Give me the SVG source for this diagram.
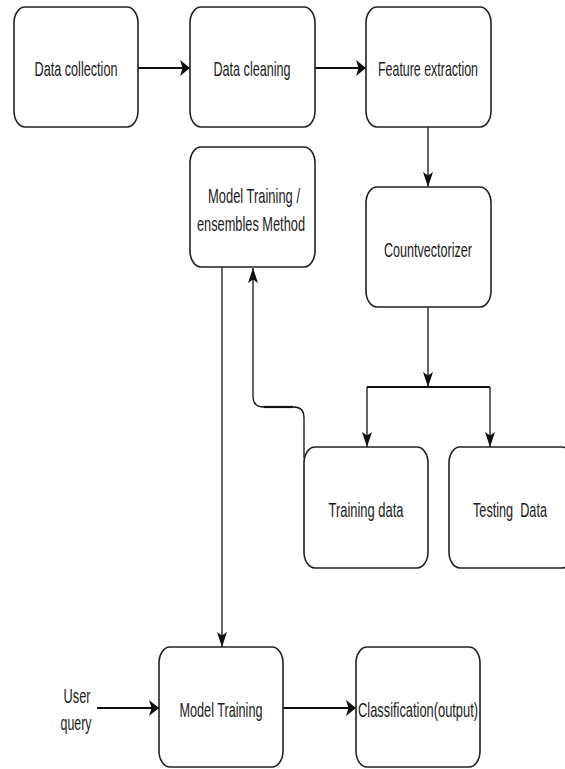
<svg xmlns="http://www.w3.org/2000/svg" width="565" height="769" viewBox="0 0 565 769">
<style>
.box{fill:#fff;stroke:#222;stroke-width:1.6}
.t{font-family:"Liberation Sans",Arial,sans-serif;font-size:21px;fill:#1a1a1a;text-anchor:middle}
.h{fill:none;stroke:#111;stroke-width:2.2}
.v{fill:none;stroke:#111;stroke-width:1.3}
</style>
<defs>
<marker id="ah" markerUnits="userSpaceOnUse" markerWidth="11" markerHeight="17" refX="10" refY="8" orient="auto">
<path d="M0,0 L10,8 L0,16 L2.5,8 Z" fill="#111"/>
</marker>
<marker id="av" markerUnits="userSpaceOnUse" markerWidth="16" markerHeight="11" refX="15" refY="5" orient="auto">
<path d="M0,0 L15,5 L0,10 L3.5,5 Z" fill="#111"/>
</marker>
</defs>
<rect width="565" height="769" fill="#fff"/>
<g id="connectors">
<path class="h" d="M138,68 L190,68" marker-end="url(#ah)"/>
<path class="h" d="M315,68 L366,68" marker-end="url(#ah)"/>
<path class="v" d="M428,127 L428,187" marker-end="url(#av)"/>
<path class="v" d="M428,307 L428,387" marker-end="url(#av)"/>
<path class="h" d="M367,387 L490,387"/>
<path class="v" d="M367,387 L367,447" marker-end="url(#av)"/>
<path class="v" d="M490,387 L490,447" marker-end="url(#av)"/>
<path class="v" d="M304,458 L304,418 Q304,407 294,407 L263,407 Q253,407 253,396 L253,268" marker-end="url(#av)"/>
<path class="h" d="M293,407 L264,407"/>
<path class="v" d="M222,267 L222,647" marker-end="url(#av)"/>
<path class="h" d="M97,708 L159,708" marker-end="url(#ah)"/>
<path class="h" d="M283,708 L356,708" marker-end="url(#ah)"/>
</g>
<g id="data-collection">
<rect class="box" x="14" y="7" width="124" height="120" rx="11" ry="16"/>
<text class="t" x="76" y="76" textLength="83" lengthAdjust="spacingAndGlyphs">Data collection</text>
</g>
<g id="data-cleaning">
<rect class="box" x="190" y="7" width="125" height="120" rx="11" ry="16"/>
<text class="t" x="252" y="76" textLength="77" lengthAdjust="spacingAndGlyphs">Data cleaning</text>
</g>
<g id="feature-extraction">
<rect class="box" x="366" y="7" width="125" height="120" rx="11" ry="16"/>
<text class="t" x="428" y="76" textLength="100" lengthAdjust="spacingAndGlyphs">Feature extraction</text>
</g>
<g id="model-training-ensembles">
<rect class="box" x="190" y="147" width="125" height="120" rx="11" ry="16"/>
<text class="t" x="254" y="203" textLength="92" lengthAdjust="spacingAndGlyphs">Model Training /</text>
<text class="t" x="251" y="231" textLength="108" lengthAdjust="spacingAndGlyphs">ensembles Method</text>
</g>
<g id="countvectorizer">
<rect class="box" x="366" y="187" width="125" height="120" rx="11" ry="16"/>
<text class="t" x="428" y="257" textLength="88" lengthAdjust="spacingAndGlyphs">Countvectorizer</text>
</g>
<g id="training-data">
<rect class="box" x="304" y="447" width="124" height="121" rx="11" ry="16"/>
<text class="t" x="366" y="517" textLength="75" lengthAdjust="spacingAndGlyphs">Training data</text>
</g>
<g id="testing-data">
<rect class="box" x="449" y="447" width="124" height="121" rx="11" ry="16"/>
<text class="t" x="510" y="517" textLength="74" lengthAdjust="spacingAndGlyphs" style="white-space:pre">Testing  Data</text>
</g>
<g id="user-query">
<text class="t" x="77" y="703" textLength="27" lengthAdjust="spacingAndGlyphs">User</text>
<text class="t" x="76" y="730" textLength="31" lengthAdjust="spacingAndGlyphs">query</text>
</g>
<g id="model-training">
<rect class="box" x="159" y="647" width="124" height="120" rx="11" ry="16"/>
<text class="t" x="221" y="717" textLength="83" lengthAdjust="spacingAndGlyphs">Model Training</text>
</g>
<g id="classification">
<rect class="box" x="356" y="647" width="124" height="120" rx="11" ry="16"/>
<text class="t" x="418" y="717" textLength="120" lengthAdjust="spacingAndGlyphs">Classification(output)</text>
</g>
</svg>
